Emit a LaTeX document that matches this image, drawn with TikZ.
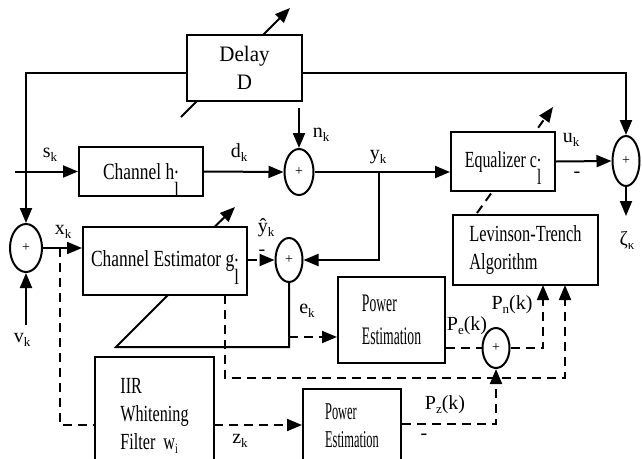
\documentclass[tikz,border=0pt]{standalone}
\usepackage{fontspec}
\setmainfont{Liberation Serif}
\usetikzlibrary{arrows.meta,shapes.geometric,calc}
\newcommand\sub[1]{\raisebox{-4pt}{\fontsize{13}{13}\selectfont #1}}
\newcommand\sx[2]{\scalebox{#1}[1.1]{#2}}
\newcommand\sxy[3]{\scalebox{#1}[#2]{#3}}
\newcommand\lsub{\smash{\rlap{\raisebox{5pt}{.}}\raisebox{-16pt}{\fontsize{20}{20}\selectfont l}}}
\begin{document}
\begin{tikzpicture}[x=1pt,y=-1pt,line width=2pt,
  >={Triangle[length=15pt,width=12pt]},
  box/.style={draw,fill=white,inner sep=0pt,font=\fontsize{21}{28}\selectfont},
  sumnode/.style={draw,ellipse,inner sep=0pt,font=\fontsize{14}{14}\selectfont},
  lbl/.style={inner sep=0pt,font=\fontsize{20}{22}\selectfont},
  dsh/.style={dash pattern=on 9pt off 6pt}]
\useasboundingbox (0,0) rectangle (642,458);

% summing junctions
\node[sumnode,minimum width=32pt,minimum height=48pt] (s1) at (26,248) {+};
\node[sumnode,minimum width=29pt,minimum height=46pt] (s2) at (299,172) {+};
\node[sumnode,minimum width=27pt,minimum height=44pt] (s3) at (289,260) {+};
\node[sumnode,minimum width=27pt,minimum height=40pt] (s4) at (496,348) {+};
\node[sumnode,minimum width=27pt,minimum height=50pt] (s5) at (626,161) {+};

% adaptation arrows (behind boxes)
\coordinate (dA) at (181,117); \coordinate (dB) at (290,8);
\coordinate (eA) at (477,213); \coordinate (eB) at (553,107);
\draw[->] (dA) -- (dB);
\draw[dsh,->] (eA) -- (eB);
\coordinate (eL) at (116,347); \coordinate (eM1) at (175,288);
\coordinate (eM2) at (200,241); \coordinate (eT) at (235,207);
\draw[->] (s3.south) -- (s3.south |- eL) -- (eL) -- (eM1) -- (eM2) -- (eT);

% blocks
\node[box,minimum width=115pt,minimum height=66pt,align=center] (delay) at (244.5,68) {\sxy{1}{1.05}{Delay}\\\sxy{1}{1.05}{D}};
\node[box,minimum width=124pt,minimum height=49pt] (chan) at (141,171.5) {\sx{0.83}{Channel h\lsub}};
\node[box,minimum width=164pt,minimum height=68pt] (est) at (165,261) {\sx{0.83}{Channel Estimator g\lsub}};
\node[box,minimum width=104pt,minimum height=59pt] (eq) at (503,161.5) {\sx{0.76}{Equalizer c\lsub}};
\node[box,minimum width=145pt,minimum height=70pt,align=left] (lev) at (525.5,250) {\sx{0.78}{Levinson-Trench}\\\sx{0.78}{Algorithm}};
\node[box,minimum width=107pt,minimum height=86pt,align=left,font=\fontsize{21}{33}\selectfont] (pe1) at (391.5,320) {\sxy{0.65}{1.2}{Power}\\\sxy{0.65}{1.2}{Estimation}};
\node[box,minimum width=98pt,minimum height=73pt,align=left] (pe2) at (352,425.5) {\sxy{0.59}{1.15}{Power}\\\sxy{0.59}{1.15}{Estimation}};
\node[box,minimum width=119pt,minimum height=118pt,align=left] (iir) at (154.5,416) {\sx{0.77}{IIR}\\\sx{0.77}{Whitening}\\\sx{0.77}{Filter\ \ w\sub{i}}};

% delay feedback
\coordinate (tl) at (26,73); \coordinate (tr) at (626,73);
\draw[->] (delay.west |- tl) -- (tl) -- (s1.north);
\draw[->] (delay.east |- tl) -- (tr) -- (s5.north);

% main path
\coordinate (sin) at (15,171.5);
\draw[->] (sin) -- (chan.west);
\draw[->] (chan.east) -- (s2.west);
\coordinate (nin) at (299,108);
\draw[->] (nin) -- (s2.north);
\draw[->] (s2.east) -- (s2.east -| eq.west);
\coordinate (yb) at (379,172);
\draw[->] (yb) |- (s3.east);
\draw[->] (eq.east) -- (s5.west);
\coordinate (zo) at (626,216);
\draw[->] (s5.south) -- (zo);

% estimator path
\draw[->] (s1.east) -- (s1.east -| est.west);
\coordinate (vin) at (26,325);
\draw[->] (vin) -- (s1.south);
\draw[dsh,->] (est.east |- s3) -- (s3.west);

% power estimation paths
\coordinate (ek) at (289,337);
\draw[dsh,->] (ek) -- (ek -| pe1.west);
\draw[dsh] (pe1.east |- s4) -- (s4.west);
\coordinate (l1) at (543,285);
\coordinate (l2) at (565,285);
\draw[dsh,->] (s4.east) -| (l1);
\coordinate (eb) at (225,295); \coordinate (bc) at (565,378);
\draw[dsh,->] (eb) |- (bc) -- (l2);
\coordinate (xb) at (60,248); \coordinate (iw) at (95,425);
\draw[dsh] (xb) |- (iw);
\coordinate (ie) at (214,425);
\draw[dsh,->] (ie) -- (ie -| pe2.west);
\coordinate (pz) at (496,424);
\draw[dsh,->] (pe2.east |- pz) -- (pz) -- (s4.south);

% labels
\node[lbl] (lsk) at (50,155) {s\sub{k}};
\node[lbl] (ldk) at (239,153) {d\sub{k}};
\node[lbl] (lnk) at (321,135) {n\sub{k}};
\node[lbl] (lyk) at (378,157) {y\sub{k}};
\node[lbl] (luk) at (571,140) {u\sub{k}};
\node[lbl] (lm1) at (577,175) {-};
\node[lbl] (lzeta) at (627,240) {ζ\sub{κ}};
\node[lbl] (lxk) at (63,232) {x\sub{k}};
\node[lbl] (lvk) at (22,340) {v\sub{k}};
\node[lbl] (lyh) at (266,228) {ŷ\sub{k}};
\node[lbl] (lm2) at (262,253) {-};
\node[lbl] (lek) at (307,311) {e\sub{k}};
\node[lbl] (lpe) at (467,326) {P\sub{e}(k)};
\node[lbl] (lpn) at (512,305) {P\sub{n}(k)};
\node[lbl] (lpz) at (445,405) {P\sub{z}(k)};
\node[lbl] (lm3) at (424,437) {-};
\node[lbl] (lzk) at (240,441) {z\sub{k}};
\end{tikzpicture}
\end{document}
